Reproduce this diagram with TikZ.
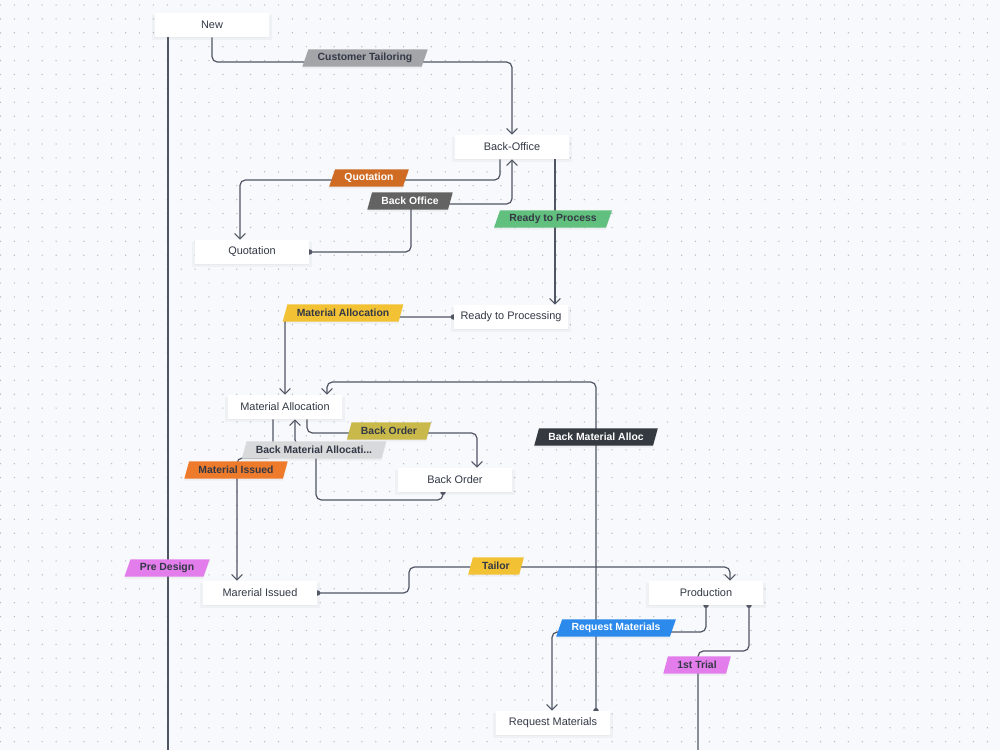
\documentclass[tikz,border=0pt]{standalone}
\usepackage{fontspec}
\setmainfont{Liberation Sans}
\usetikzlibrary{arrows.meta,shapes.geometric,shadows}
\pgfdeclarelayer{grid}
\pgfdeclarelayer{edges}
\pgfsetlayers{grid,edges,main}
\definecolor{bgc}{HTML}{F8F9FC}
\definecolor{dotc}{HTML}{B4B8C2}
\definecolor{ln}{HTML}{505564}
\definecolor{txt}{HTML}{333845}
\definecolor{cgray}{HTML}{A4A5A9}
\definecolor{cquote}{HTML}{CF6B22}
\definecolor{cback}{HTML}{636363}
\definecolor{cgreen}{HTML}{62C07E}
\definecolor{cyellow}{HTML}{F3C234}
\definecolor{colive}{HTML}{C8B94A}
\definecolor{clight}{HTML}{D8D9DB}
\definecolor{corange}{HTML}{EE7B2C}
\definecolor{cdark}{HTML}{343A40}
\definecolor{cpink}{HTML}{E27DEB}
\definecolor{cblue}{HTML}{2B8AEB}
\begin{document}
\begin{tikzpicture}[x=0.75pt,y=-0.75pt,
  >={Straight Barb[length=4pt,width=8pt]},
  st/.style={rectangle, fill=white, minimum width=86pt, minimum height=18pt,
    inner sep=0pt, text=txt, font=\fontsize{8.2}{9}\selectfont,
    drop shadow={shadow xshift=0pt, shadow yshift=-2pt, opacity=0.06, shadow scale=1.04},
    drop shadow={shadow xshift=0pt, shadow yshift=-1pt, opacity=0.06}},
  lb/.style={trapezium, trapezium left angle=58, trapezium right angle=122,
    trapezium stretches body, minimum height=13pt, inner xsep=7pt, inner ysep=0pt,
    text=txt, font=\bfseries\fontsize{7.8}{8.5}\selectfont,
    drop shadow={shadow xshift=0pt, shadow yshift=-1.5pt, opacity=0.08}},
  flow/.style={draw=ln, line width=0.9pt, rounded corners=4pt},
  src/.style={{Circle[length=4pt]}->, shorten <=-2pt},
  srcb/.style={{Circle[length=4pt]}-, shorten <=-2pt},
  ]
\useasboundingbox (0,0) rectangle (1000,750);
% background with dot grid
\begin{pgfonlayer}{grid}
\fill[bgc] (0,0) rectangle (1000,750);
\foreach \i in {0,...,71}
  \foreach \j in {0,...,53}
    \fill[dotc] (0.5+13.9*\i,5+13.9*\j) circle (0.55pt);
\end{pgfonlayer}
% states
\node[st] (st0) at (212,25) {New};
\node[st] (st1) at (512,147) {Back-Office};
\node[st] (st2) at (252,252) {Quotation};
\node[st] (st3) at (511,317) {Ready to Processing};
\node[st] (st4) at (285,407) {Material Allocation};
\node[st] (st5) at (455,480) {Back Order};
\node[st] (st6) at (260,593) {Marerial Issued};
\node[st] (st7) at (706,593) {Production};
\node[st] (st8) at (553,723) {Request Materials};
\coordinate (out0) at (168,750);
\coordinate (out1) at (698,750);
% transitions
\begin{pgfonlayer}{edges}
\draw[flow,->] (st0.south) -- (212,62) -| (st1.north);
\draw[flow] (st0.south -| 168,0) -- (out0);
\draw[flow,->] (st1.south -| 500,0) -- (500,180) -| (st2.north -| 240,0);
\draw[flow,src] (st2.east) -| (411,204) -| (st1.south);
\draw[flow,->] (st1.south -| 555,0) -- (st3.north -| 555,0);
\draw[flow,src] (st3.west) -| (st4.north);
\draw[flow,src] (st8.north -| 596,0) |- (327,382) -- (st4.north -| 327,0);
\draw[flow,->] (st4.south -| 307,0) |- (477,433) -- (st5.north -| 477,0);
\draw[flow,src] (st5.south -| 443,0) |- (316,500) -- (316,445) -| (st4.south -| 295,0);
\draw[flow,->] (st4.south -| 273,0) |- (237,458) -- (st6.north -| 237,0);
\draw[flow,src] (st6.east) -| (409,567) -| (st7.north -| 730,0);
\draw[flow,src] (st7.south -| 706,0) |- (552,632) -- (st8.north -| 552,0);
\draw[flow,srcb] (st7.south -| 749,0) |- (698,651) -- (out1);
\end{pgfonlayer}
% transition labels
\node[lb, fill=cgray] (lb0) at (365,58) {Customer Tailoring};
\node[lb, fill=cquote, text=white] (lb1) at (369,178) {Quotation};
\node[lb, fill=cback, text=white] (lb2) at (410,201) {Back Office};
\node[lb, fill=cgreen] (lb3) at (553,219) {Ready to Process};
\node[lb, fill=cyellow] (lb4) at (343,313) {Material Allocation};
\node[lb, fill=colive] (lb5) at (389,431) {Back Order};
\node[lb, fill=clight] (lb6) at (314,450) {Back Material Allocati...};
\node[lb, fill=corange] (lb7) at (236,470) {Material Issued};
\node[lb, fill=cdark, text=white] (lb8) at (596,437) {Back Material Alloc};
\node[lb, fill=cpink] (lb9) at (167,568) {Pre Design};
\node[lb, fill=cyellow] (lb10) at (496,566) {Tailor};
\node[lb, fill=cblue, text=white] (lb11) at (616,628) {Request Materials};
\node[lb, fill=cpink] (lb12) at (697,665) {1st Trial};
\end{tikzpicture}
\end{document}
